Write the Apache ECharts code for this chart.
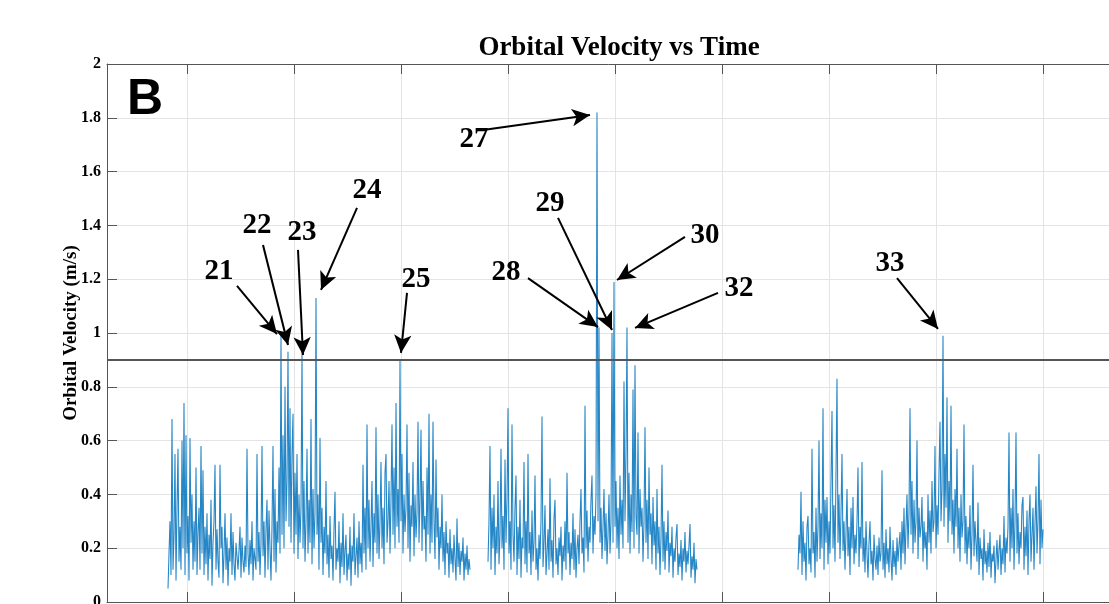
<!DOCTYPE html>
<html>
<head>
<meta charset="utf-8">
<title>Orbital Velocity vs Time</title>
<script src="https://cdn.jsdelivr.net/npm/echarts@6/dist/echarts.min.js"></script>
<style>
  html, body { margin: 0; padding: 0; background: #fff; }
  #chart { width: 1109px; height: 604px; }
</style>
</head>
<body>
<div id="chart"></div>
<script>
// time is in samples; three recording bursts with gaps between them
var seg1Start = 61, seg2Start = 381, seg3Start = 691;

var seg1 = [
  .05,.18,.30,.10,.68,.12,.25,.55,.08,.35,
  .57,.15,.28,.12,.60,.20,.74,.10,.62,.18,
  .32,.08,.61,.22,.40,.12,.30,.15,.50,.10,
  .26,.35,.12,.58,.18,.49,.10,.28,.14,.33,
  .08,.25,.16,.38,.06,.22,.30,.51,.12,.27,
  .15,.09,.51,.20,.28,.07,.18,.33,.12,.24,
  .06,.20,.15,.33,.10,.26,.14,.08,.22,.17,
  .12,.19,.28,.09,.24,.15,.11,.21,.13,.57,
  .18,.10,.23,.14,.30,.08,.20,.16,.12,.55,
  .15,.26,.10,.22,.58,.17,.30,.09,.27,.38,
  .12,.34,.20,.08,.28,.58,.15,.42,.11,.30,
  .22,.50,.18,.99,.25,.62,.20,.80,.30,.45,
  .93,.28,.72,.22,.55,.70,.18,.48,.25,.55,
  .16,.40,.22,.35,.93,.20,.45,.15,.30,.57,
  .18,.38,.22,.68,.14,.42,.20,.33,1.13,.25,
  .40,.12,.61,.22,.35,.10,.28,.18,.45,.14,
  .25,.09,.32,.16,.21,.08,.27,.41,.12,.20,
  .15,.30,.07,.22,.13,.33,.10,.19,.25,.08,
  .18,.12,.28,.06,.21,.15,.33,.10,.17,.24,
  .09,.30,.14,.22,.11,.51,.18,.35,.12,.66,
  .20,.38,.15,.28,.45,.13,.33,.22,.65,.18,
  .40,.16,.30,.52,.20,.35,.14,.48,.55,.22,
  .30,.45,.18,.38,.66,.25,.50,.20,.74,.28,
  .42,.22,.90,.30,.55,.18,.40,.26,.35,.66,
  .20,.48,.15,.36,.28,.52,.17,.40,.24,.33,
  .67,.22,.38,.64,.19,.45,.27,.32,.15,.50,
  .25,.70,.18,.40,.22,.67,.30,.16,.53,.24,
  .35,.12,.28,.20,.40,.15,.26,.10,.30,.18,
  .22,.09,.27,.14,.20,.11,.25,.16,.08,.31,
  .13,.22,.10,.19,.15,.24,.08,.18,.12,.21,
  .10,.16,.12
];

var seg2 = [
  .15,.30,.58,.12,.35,.20,.40,.10,.28,.18,
  .45,.14,.25,.57,.20,.32,.12,.53,.22,.38,
  .72,.18,.30,.12,.66,.25,.15,.35,.47,.10,
  .28,.16,.38,.09,.24,.20,.52,.14,.30,.11,
  .55,.18,.26,.10,.34,.15,.22,.47,.12,.20,
  .08,.25,.16,.30,.69,.13,.22,.36,.10,.18,
  .27,.12,.46,.15,.23,.09,.31,.38,.14,.20,
  .10,.24,.17,.28,.08,.21,.15,.30,.12,.48,
  .18,.26,.10,.22,.16,.33,.12,.27,.09,.20,
  .25,.14,.30,.42,.18,.24,.11,.73,.20,.34,
  .15,.28,.22,.38,.47,.18,.32,.25,.40,1.82,
  .30,1.02,.22,.35,.16,.28,.42,.19,.33,.14,
  .25,.40,.18,.30,1.00,.22,1.19,.28,.45,.20,
  .35,.16,.47,.25,.38,.20,.82,.30,.55,1.02,
  .22,.48,.18,.40,.26,.79,.20,.88,.32,.25,
  .63,.18,.42,.28,.35,.15,.30,.65,.22,.38,
  .16,.50,.25,.33,.14,.39,.21,.30,.12,.42,
  .18,.28,.10,.24,.51,.15,.30,.12,.26,.19,
  .34,.11,.22,.17,.28,.09,.20,.15,.24,.29,
  .10,.18,.13,.23,.08,.20,.15,.26,.11,.19,
  .14,.21,.29,.09,.17,.12,.22,.07,.16,.12
];

var seg3 = [
  .12,.25,.18,.41,.10,.30,.15,.22,.08,.28,
  .32,.14,.20,.11,.57,.18,.26,.09,.35,.15,
  .28,.60,.16,.33,.20,.72,.12,.38,.22,.39,
  .14,.30,.18,.45,.71,.20,.36,.15,.48,.83,
  .22,.40,.16,.33,.55,.19,.30,.12,.26,.42,
  .17,.28,.10,.35,.20,.39,.14,.25,.18,.30,
  .50,.13,.28,.20,.52,.15,.24,.11,.30,.18,
  .09,.22,.30,.14,.19,.08,.25,.16,.12,.21,
  .10,.24,.15,.18,.49,.12,.22,.09,.27,.14,
  .20,.11,.28,.16,.08,.23,.13,.19,.10,.24,
  .15,.21,.26,.12,.30,.18,.35,.14,.28,.40,
  .20,.33,.72,.25,.45,.18,.38,.22,.30,.60,
  .16,.35,.24,.28,.39,.15,.30,.20,.26,.12,
  .40,.22,.34,.18,.45,.26,.30,.58,.20,.36,
  .25,.48,.67,.30,.42,.99,.28,.55,.35,.76,
  .22,.45,.30,.73,.25,.38,.18,.42,.28,.57,
  .20,.35,.15,.40,.24,.30,.66,.18,.32,.14,
  .28,.20,.36,.12,.25,.51,.17,.30,.22,.15,
  .37,.10,.24,.16,.20,.08,.27,.14,.19,.11,
  .22,.13,.26,.09,.18,.15,.21,.07,.16,.23,
  .12,.19,.25,.10,.20,.14,.32,.11,.24,.18,
  .28,.63,.15,.35,.20,.42,.12,.30,.63,.18,
  .33,.14,.26,.20,.36,.39,.12,.28,.17,.34,
  .10,.30,.40,.15,.25,.35,.12,.29,.43,.18,
  .30,.55,.14,.38,.20,.27
];

var timeMax = 1032;
var gridTimes = [80, 187, 294, 401, 508, 615, 722, 829, 936];
var threshold = 0.9;

// event numbers, where each number sits and where its arrow goes
var peakIds = ["21", "22", "23", "24", "25", "27", "28", "29", "30", "32", "33"];
var peakLabelAt = [[112, 1.23], [150, 1.40], [195, 1.375], [260, 1.53], [309, 1.20],
                   [367, 1.72], [399, 1.223], [443, 1.483], [598, 1.364], [632, 1.164], [783, 1.257]];
var arrowFrom = [[130, 1.175], [156, 1.327], [191, 1.309], [250, 1.465], [300, 1.149],
                 [376, 1.755], [421, 1.204], [451, 1.428], [578, 1.357], [611, 1.149], [790, 1.204]];
var arrowTo = [[170, 0.996], [181, 0.955], [196, 0.918], [214, 1.16], [294, 0.926],
               [483, 1.81], [491, 1.022], [505, 1.011], [510, 1.197], [528, 1.019], [831, 1.015]];

var chart = echarts.init(document.getElementById("chart"));
var serif = "Liberation Serif";
var axisGray = "#555";
var gridGray = "#e4e4e4";

function toPoints(start, values) {
  return values.map(function(v, i) {
    return [start + i, v];
  });
}

function trace(start, values) {
  return {
    type: "line",
    data: toPoints(start, values),
    showSymbol: false,
    symbol: "none",
    silent: true,
    lineStyle: { color: "#0072BD", width: 1.1, opacity: 0.85 },
    z: 2
  };
}

var arrows = peakIds.map(function(id, i) {
  return [{ coord: arrowFrom[i] }, { coord: arrowTo[i] }];
});

var labels = peakIds.map(function(id, i) {
  return { coord: peakLabelAt[i], value: id };
});

var series = [trace(seg1Start, seg1), trace(seg2Start, seg2), trace(seg3Start, seg3)];
series[0].markLine = {
  silent: true,
  symbol: "none",
  label: { show: false },
  lineStyle: { color: "#555", width: 2, type: "solid" },
  data: [{ yAxis: threshold }]
};
series.push({
  type: "line",
  data: [],
  silent: true,
  markPoint: {
    silent: true,
    symbol: "circle",
    symbolSize: 0,
    itemStyle: { color: "#000" },
    label: {
      show: true,
      position: "inside",
      formatter: "{c}",
      fontFamily: serif,
      fontWeight: "bold",
      fontSize: 29,
      color: "#000",
      textBorderWidth: 0
    },
    data: labels
  },
  markLine: {
    silent: true,
    symbol: ["none", "arrow"],
    symbolSize: [13, 18],
    label: { show: false },
    lineStyle: { color: "#000", width: 2, type: "solid", opacity: 1 },
    data: arrows
  },
  z: 5
});

var option = {
  animation: false,
  title: {
    text: "Orbital Velocity vs Time",
    left: 614,
    top: 30,
    textAlign: "center",
    textStyle: { fontFamily: serif, fontWeight: "bold", fontSize: 27, color: "#000" }
  },
  grid: { left: 107, right: -30, top: 64, bottom: 2, outerBoundsMode: "none", containLabel: false },
  xAxis: [
    {
      type: "value",
      min: 0,
      max: timeMax,
      position: "bottom",
      axisLine: { onZero: false, lineStyle: { color: axisGray } },
      axisTick: { inside: true, length: 10, customValues: gridTimes, lineStyle: { color: axisGray } },
      axisLabel: { show: false },
      splitLine: { show: true, lineStyle: { color: gridGray } }
    },
    {
      type: "value",
      min: 0,
      max: timeMax,
      position: "top",
      axisLine: { onZero: false, lineStyle: { color: axisGray } },
      axisTick: { inside: true, length: 10, customValues: gridTimes, lineStyle: { color: axisGray } },
      axisLabel: { show: false },
      splitLine: { show: false }
    }
  ],
  yAxis: {
    type: "value",
    min: 0,
    max: 2,
    interval: 0.2,
    name: "Orbital Velocity (m/s)",
    nameLocation: "middle",
    nameGap: 26,
    nameMoveOverlap: false,
    nameTextStyle: { fontFamily: serif, fontWeight: "bold", fontSize: 19, color: "#000" },
    axisLine: { show: true, lineStyle: { color: axisGray } },
    axisTick: { show: true, inside: true, length: 10, lineStyle: { color: axisGray } },
    axisLabel: { margin: 6, fontFamily: serif, fontWeight: "bold", fontSize: 16, color: "#000" },
    splitLine: { show: true, lineStyle: { color: gridGray } }
  },
  graphic: [{
    type: "text",
    x: 145,
    y: 100,
    style: {
      text: "B",
      align: "center",
      verticalAlign: "middle",
      fontFamily: "Liberation Sans",
      fontWeight: "bold",
      fontSize: 50,
      fill: "#000"
    }
  }],
  series: series
};

chart.setOption(option);
</script>
</body>
</html>
